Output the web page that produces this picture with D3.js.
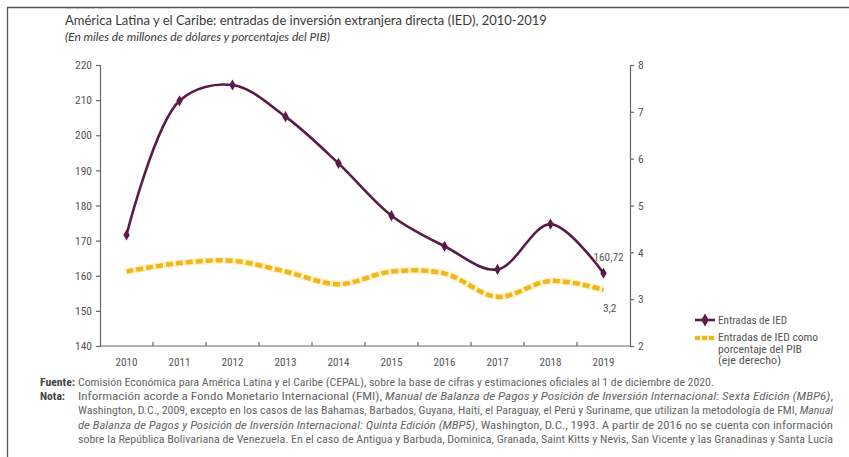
<!DOCTYPE html>
<html><head><meta charset="utf-8">
<script src="https://cdn.jsdelivr.net/npm/d3@7"></script>
<style>
body{margin:0;background:#fff;}
svg{display:block;}
.narrow{font-family:"Liberation Sans Narrow","Arial Narrow","Roboto Condensed","Liberation Sans",sans-serif;}
</style></head>
<body>
<svg id="c" width="849" height="457"></svg>
<script>
const years = ["2010","2011","2012","2013","2014","2015","2016","2017","2018","2019"];
const iedValues = [171.6, 209.8, 214.3, 205.3, 192.0, 177.1, 168.4, 161.8, 174.7, 160.72];
const pibValues = [3.59, 3.77, 3.82, 3.59, 3.32, 3.59, 3.55, 3.05, 3.39, 3.2];
const leftTicks = [140,150,160,170,180,190,200,210,220];
const rightTicks = [2,3,4,5,6,7,8];
const seriesNames = ["Entradas de IED", ["Entradas de IED como","porcentaje del PIB","(eje derecho)"]];
const endLabels = ["160,72","3,2"];

const svg = d3.select("#c");
const purple = "#5a1b48", yellow = "#f0b71a", textC = "#555";

// frame
svg.append("line").attr("x1",7).attr("x2",849).attr("y1",7.5).attr("y2",7.5).attr("stroke","#555").attr("stroke-width",1.3);
svg.append("line").attr("x1",7.5).attr("x2",7.5).attr("y1",7).attr("y2",457).attr("stroke","#555").attr("stroke-width",1.3);
svg.append("clipPath").attr("id","topclip").append("rect").attr("x",0).attr("y",8.5).attr("width",849).attr("height",20);
svg.append("text").attr("x",65).attr("y",9).attr("clip-path","url(#topclip)")
  .attr("font-family","Lato, 'Open Sans', sans-serif").attr("font-size",9.5).attr("fill","#888").text("Gráfico 3");

// titles
svg.append("text").attr("x",65).attr("y",24.5).attr("font-family","Lato, 'Open Sans', sans-serif").attr("font-size",13)
  .attr("fill","#3a3a3a").text("América Latina y el Caribe: entradas de inversión extranjera directa (IED), 2010-2019");
svg.append("text").attr("x",65).attr("y",41).attr("font-family","Lato, 'Open Sans', sans-serif").attr("font-size",12)
  .attr("font-style","italic").attr("fill","#3a3a3a").text("(En miles de millones de dólares y porcentajes del PIB)");

const x = d3.scaleBand().domain(years).range([100,630]).padding(0);
const yL = d3.scaleLinear().domain([140,220]).range([346,65]);
const yR = d3.scaleLinear().domain([2,8]).range([346,65]);
const cx = d => x(d)+x.bandwidth()/2;

// axes
const gL = svg.append("g").attr("transform","translate(100,0)").attr("class","narrow")
  .call(d3.axisLeft(yL).tickValues(leftTicks).tickSize(4).tickPadding(4).tickFormat(d3.format("d")));
const gR = svg.append("g").attr("transform","translate(630,0)").attr("class","narrow")
  .call(d3.axisRight(yR).tickValues(rightTicks).tickSize(4).tickPadding(4).tickFormat(d3.format("d")));
const gX = svg.append("g").attr("transform","translate(0,346)").attr("class","narrow")
  .call(d3.axisBottom(x).tickSize(0).tickPadding(12));
gX.selectAll(".sep").data(years.slice(1)).enter().append("line")
  .attr("x1",d=>x(d)).attr("x2",d=>x(d)).attr("y1",0).attr("y2",-4).attr("stroke","#666").attr("stroke-width",1.2);
[gL,gR,gX].forEach(g=>{
  g.selectAll(".domain").attr("stroke","#666").attr("stroke-width",1.2);
  g.selectAll(".tick line").attr("stroke","#666").attr("stroke-width",1.2);
  g.selectAll("text").attr("font-size",11.5).attr("fill",textC).attr("font-family",null);
});
gX.select(".domain").attr("d","M100,0H630");
// condense the axis labels horizontally
gX.selectAll(".tick text").attr("textLength",22).attr("lengthAdjust","spacingAndGlyphs");
gL.selectAll(".tick text").attr("textLength",17).attr("lengthAdjust","spacingAndGlyphs");

// yellow dashed line (right axis)
const lineR = d3.line().x((d,i)=>cx(years[i])).y(d=>yR(d)).curve(d3.curveCatmullRom.alpha(0.5));
svg.append("path").datum(pibValues).attr("d",lineR).attr("fill","none")
  .attr("stroke","#fbe7a6").attr("stroke-width",7).attr("stroke-opacity",0.6);
svg.append("path").datum(pibValues).attr("d",lineR).attr("fill","none")
  .attr("stroke",yellow).attr("stroke-width",4.5).attr("stroke-dasharray","7,3");

// purple line
const lineL = d3.line().x((d,i)=>cx(years[i])).y(d=>yL(d)).curve(d3.curveCatmullRom.alpha(0.5));
svg.append("path").datum(iedValues).attr("d",lineL).attr("fill","none")
  .attr("stroke",purple).attr("stroke-width",2.6);
const diamond = d3.symbol().type(d3.symbolDiamond).size(36);
svg.selectAll(".mk").data(iedValues).enter().append("path")
  .attr("d",diamond).attr("transform",(d,i)=>`translate(${cx(years[i])},${yL(d)})`).attr("fill",purple);

// end labels
svg.append("text").attr("class","narrow").attr("x",cx("2019")+20).attr("y",yL(iedValues[9])-12)
  .attr("text-anchor","end").attr("font-size",11.5).attr("fill",textC).attr("textLength",30).attr("lengthAdjust","spacingAndGlyphs").text(endLabels[0]);
svg.append("text").attr("class","narrow").attr("x",cx("2019")+13).attr("y",yR(pibValues[9])+22)
  .attr("text-anchor","end").attr("font-size",11.5).attr("fill",textC).text(endLabels[1]);

// legend
const lg = svg.append("g").attr("class","narrow");
lg.append("line").attr("x1",695).attr("x2",715).attr("y1",320).attr("y2",320).attr("stroke",purple).attr("stroke-width",2.6);
lg.append("path").attr("d",d3.symbol().type(d3.symbolDiamond).size(50)).attr("transform","translate(705,320)").attr("fill",purple);
lg.append("text").attr("x",718).attr("y",324).attr("font-size",11).attr("fill",textC).attr("textLength",69).attr("lengthAdjust","spacingAndGlyphs").text(seriesNames[0]);
lg.append("line").attr("x1",695).attr("x2",715).attr("y1",338).attr("y2",338).attr("stroke","#fbe7a6").attr("stroke-width",6).attr("stroke-opacity",0.6);
lg.append("line").attr("x1",695).attr("x2",715).attr("y1",338).attr("y2",338).attr("stroke",yellow).attr("stroke-width",4).attr("stroke-dasharray","5,2");
const lgW = [100,84,63];
seriesNames[1].forEach((t,i)=>lg.append("text").attr("x",718).attr("y",341+i*11.5).attr("font-size",11).attr("fill",textC)
  .attr("textLength",lgW[i]).attr("lengthAdjust","spacingAndGlyphs").text(t));

// footer
const ft = svg.append("g").attr("class","narrow").attr("font-size",10).attr("fill","#666");
ft.append("text").attr("x",40).attr("y",386).attr("font-weight","bold").attr("fill","#444")
  .attr("textLength",35).attr("lengthAdjust","spacingAndGlyphs").text("Fuente:");
ft.append("text").attr("x",78).attr("y",386).attr("textLength",636).attr("lengthAdjust","spacingAndGlyphs")
  .text("Comisión Económica para América Latina y el Caribe (CEPAL), sobre la base de cifras y estimaciones oficiales al 1 de diciembre de 2020.");
ft.append("text").attr("x",40).attr("y",400).attr("font-weight","bold").attr("fill","#444")
  .attr("textLength",25).attr("lengthAdjust","spacingAndGlyphs").text("Nota:");
const noteLines = [
  [["Información acorde a Fondo Monetario Internacional (FMI), ",false],["Manual de Balanza de Pagos y Posición de Inversión Internacional: Sexta Edición (MBP6)",true],[",",false]],
  [["Washington, D.C., 2009, excepto en los casos de las Bahamas, Barbados, Guyana, Haití, el Paraguay, el Perú y Suriname, que utilizan la metodología de FMI, ",false],["Manual",true]],
  [["de Balanza de Pagos y Posición de Inversión Internacional: Quinta Edición  (MBP5)",true],[", Washington, D.C., 1993. A partir de 2016 no se cuenta con información",false]],
  [["sobre la República Bolivariana de Venezuela. En el caso de Antigua y Barbuda, Dominica, Granada, Saint Kitts y Nevis, San Vicente y las Granadinas y Santa Lucía",false]]
];
noteLines.forEach((ln,i)=>{
  const t = ft.append("text").attr("x",78).attr("y",400+i*14.3).attr("textLength",755).attr("lengthAdjust","spacingAndGlyphs");
  ln.forEach(([s,it])=>t.append("tspan").attr("font-style",it?"italic":"normal").text(s));
});
</script>
</body></html>
